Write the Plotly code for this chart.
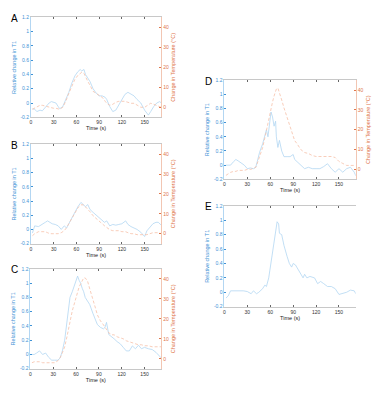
import plotly.graph_objects as go

# ---------------- data ----------------
tA = [2, 5, 8, 12, 15, 20, 24, 27, 30, 33, 36, 38, 42, 46, 50, 54, 58, 62, 65, 67, 70, 72, 75, 78, 82, 86, 90, 94, 98, 100, 104, 108, 112, 116, 120, 124, 128, 132, 136, 140, 145, 150, 155, 158, 162, 166, 170, 172]
t1A = [-0.08, -0.09, -0.12, -0.1, -0.11, -0.05, 0.0, 0.02, 0.01, 0.0, -0.05, -0.08, -0.05, 0.05, 0.15, 0.28, 0.38, 0.44, 0.47, 0.45, 0.47, 0.4, 0.35, 0.3, 0.2, 0.14, 0.1, 0.1, 0.08, 0.05, -0.05, -0.12, -0.1, -0.03, 0.05, 0.12, 0.15, 0.13, 0.1, 0.05, 0.0, -0.1, -0.17, -0.12, -0.05, 0.0, 0.02, 0.0]
tempA = [-1, -0.5, 0, 1, 1, 0.5, 0, 0, -0.5, -0.5, -1, -1, 0, 3, 7, 11, 14, 16, 17, 17.5, 17, 15, 13, 11, 8, 7, 6, 5, 3, 2, 1, 1.5, 2.5, 3, 3, 3, 2.5, 2, 2, 1, 0, 0, 1.5, 2, 1.5, 1, 0.5, 0]

tB = [2, 5, 10, 15, 19, 22, 25, 28, 32, 36, 40, 44, 47, 50, 54, 58, 62, 66, 69, 72, 75, 78, 82, 86, 90, 94, 97, 100, 104, 108, 112, 116, 120, 125, 128, 132, 136, 140, 145, 150, 153, 157, 161, 165, 168, 172]
t1B = [-0.05, 0.05, 0.04, 0.08, 0.1, 0.12, 0.1, 0.08, 0.07, 0.05, 0.0, 0.05, 0.02, 0.08, 0.18, 0.26, 0.32, 0.38, 0.35, 0.32, 0.35, 0.28, 0.24, 0.2, 0.17, 0.12, 0.1, 0.12, 0.05, 0.07, 0.06, 0.07, 0.08, 0.12, 0.07, 0.04, 0.02, 0.0, -0.04, -0.1, -0.02, 0.03, 0.08, 0.1, 0.1, 0.06]
tempB = [-1, 0, 1, 1, 1, 0.5, 0, 0, 0, 0, 0.5, 1.5, 3, 5, 8, 11, 13, 14.5, 14.5, 13.5, 12.5, 11, 9, 7.5, 6, 5, 4, 3, 2, 1.5, 1.5, 1.5, 1, 1, 0.5, 0, 0, -0.5, -0.5, -0.5, -0.5, 0, 0.5, 0.5, 0.5, 0]

tC = [2, 5, 8, 12, 16, 20, 24, 28, 32, 36, 39, 42, 45, 48, 50, 52, 55, 58, 60, 62, 64, 66, 68, 70, 72, 75, 78, 82, 85, 88, 92, 96, 98, 100, 103, 107, 110, 114, 118, 122, 126, 130, 134, 138, 142, 146, 150, 155, 160, 165, 170, 172]
t1C = [0.0, 0.0, 0.02, 0.05, 0.0, 0.02, -0.04, -0.08, -0.08, -0.08, -0.05, 0.05, 0.2, 0.45, 0.6, 0.8, 0.88, 0.98, 1.05, 1.1, 1.04, 1.0, 0.93, 0.88, 0.8, 0.75, 0.7, 0.58, 0.5, 0.42, 0.38, 0.36, 0.38, 0.45, 0.28, 0.25, 0.22, 0.18, 0.15, 0.1, 0.05, 0.05, 0.12, 0.08, 0.13, 0.08, 0.1, 0.08, 0.07, 0.03, -0.02, -0.05]
tempC = [-2, -1.5, -1.5, -1.5, -2, -2, -2, -2, -2, -1, 0.5, 3, 6, 11, 15, 19, 24, 28, 31, 34, 36, 37.5, 39, 40.5, 40.5, 39, 35, 29, 26, 22, 19, 17, 16, 15, 13, 12, 12, 11, 10.5, 10, 9, 8.5, 8, 7.5, 7, 7, 6.5, 6.5, 6, 6, 6, 6]

tD = [2, 5, 8, 12, 15, 18, 22, 26, 30, 34, 38, 41, 43, 46, 50, 53, 55, 57, 59, 61, 63, 65, 67, 68, 70, 72, 75, 78, 82, 86, 90, 92, 95, 100, 105, 110, 115, 120, 125, 130, 135, 140, 145, 150, 155, 160, 165, 170, 172]
t1D = [0.0, 0.0, 0.0, 0.05, 0.08, 0.06, 0.03, 0.0, -0.05, -0.04, -0.05, -0.03, 0.05, 0.18, 0.3, 0.45, 0.5, 0.4, 0.62, 0.75, 0.68, 0.55, 0.62, 0.4, 0.25, 0.35, 0.2, 0.12, 0.12, 0.12, 0.15, 0.08, 0.05, 0.0, -0.05, -0.03, -0.05, -0.05, -0.05, -0.02, 0.02, -0.05, -0.1, -0.05, -0.1, -0.05, -0.03, -0.1, -0.15]
tempD = [-3, -2, -1.5, -1, -1, -0.5, -0.5, -0.5, 0, 0, 0.5, 1, 3, 6, 11, 16, 20, 24, 28, 31, 34, 37, 39, 40.5, 41, 39, 35, 31, 26, 21, 16, 14.5, 13, 10, 8.5, 8, 7, 6.5, 6.5, 6.5, 6.5, 6.5, 6, 4, 3, 2, 2, 2, 2]

tE = [2, 5, 8, 12, 15, 20, 25, 30, 35, 38, 42, 45, 50, 53, 55, 58, 60, 62, 65, 67, 69, 71, 72, 75, 78, 82, 85, 88, 90, 93, 97, 100, 103, 105, 108, 112, 118, 122, 126, 130, 135, 140, 145, 150, 155, 160, 165, 170, 172]
t1E = [-0.08, -0.05, 0.02, 0.02, 0.03, 0.02, 0.02, 0.01, -0.02, 0.02, -0.02, 0.0, 0.05, 0.1, 0.08, 0.2, 0.35, 0.5, 0.75, 0.9, 0.98, 0.95, 0.82, 0.8, 0.65, 0.5, 0.4, 0.35, 0.4, 0.38, 0.3, 0.25, 0.2, 0.25, 0.2, 0.22, 0.2, 0.12, 0.15, 0.12, 0.08, 0.08, 0.05, -0.03, -0.02, 0.0, 0.03, 0.02, -0.02]

panels = ["A", "B", "C", "D", "E"]
times = [tA, tB, tC, tD, tE]
t1_series = [t1A, t1B, t1C, t1D, t1E]
temp_series = [tempA, tempB, tempC, tempD, None]

x_ticks = [0, 30, 60, 90, 120, 150]
y1_ticks = [-0.2, 0, 0.2, 0.4, 0.6, 0.8, 1, 1.2]
y1_ticktext = ["-0.2", "0", "0.2", "0.4", "0.6", "0.8", "1", "1.2"]
y2_ticks = [0, 10, 20, 30, 40]

# ---------------- layout geometry (pixels) ----------------
W, H = 389, 400
boxes = {  # x0, x1, ytop, ybottom in px
    "A": (30, 160.7, 14.7, 116),
    "B": (30, 160.7, 143.3, 244.3),
    "C": (29.5, 160.7, 270, 371.3),
    "D": (224, 355.7, 78.3, 179),
    "E": (224, 355.7, 206, 308.3),
}

BLUE_TXT = "#3f93d6"
ORANGE_TXT = "#e0764a"
BLUE_LINE = "#b3d7f3"
ORANGE_LINE = "#f6c0a8"
FONT = "Liberation Sans, Arial, sans-serif"

fig = go.Figure()
layout = dict(
    width=W, height=H, margin=dict(l=0, r=0, t=0, b=0),
    paper_bgcolor="white", plot_bgcolor="white", showlegend=False,
    font=dict(family=FONT, size=5),
)
annotations = []

for i, p in enumerate(panels):
    n = i + 1
    xs = "" if n == 1 else str(n)
    yl = 2 * i + 1
    yr = 2 * i + 2
    yls = "" if yl == 1 else str(yl)
    x0, x1, yt, yb = boxes[p]
    xd = [x0 / W, x1 / W]
    yd = [1 - yb / H, 1 - yt / H]

    fig.add_trace(go.Scatter(x=times[i], y=t1_series[i], mode="lines",
                             line=dict(color=BLUE_LINE, width=0.8),
                             xaxis="x" + xs, yaxis="y" + yls, hoverinfo="skip"))
    if temp_series[i] is not None:
        fig.add_trace(go.Scatter(x=times[i], y=temp_series[i], mode="lines",
                                 line=dict(color=ORANGE_LINE, width=0.8, dash="3px,2px"),
                                 xaxis="x" + xs, yaxis="y" + str(yr), hoverinfo="skip"))

    layout["xaxis" + xs] = dict(
        domain=xd, anchor="y" + yls, range=[0, 172],
        tickvals=x_ticks, ticks="inside", ticklen=2, tickcolor="#666666",
        showline=True, linecolor="#c8c8c8", linewidth=0.8, mirror="ticks",
        showgrid=False, zeroline=False,
        tickfont=dict(size=5, color="#333333"),
        title=dict(text="Time (s)", font=dict(size=5.5, color="#222222"), standoff=1),
    )
    layout["yaxis" + yls] = dict(
        domain=yd, anchor="x" + xs, range=[-0.2, 1.2],
        tickvals=y1_ticks, ticktext=y1_ticktext, ticks="inside", ticklen=2,
        tickcolor=BLUE_TXT, showline=True, linecolor="#b3d6f2", linewidth=0.8,
        showgrid=False, zeroline=False,
        tickfont=dict(size=5, color=BLUE_TXT),
        title=dict(text="Relative change in T1", font=dict(size=5.5, color=BLUE_TXT), standoff=3),
    )
    layout["yaxis" + str(yr)] = dict(
        domain=yd, anchor="x" + xs, overlaying="y" + yls, side="right",
        range=[-5, 45], tickvals=y2_ticks, ticks="inside", ticklen=2,
        tickcolor=ORANGE_TXT, showline=True, linecolor="#f2c6b3", linewidth=0.8,
        showgrid=False, zeroline=False,
        tickfont=dict(size=5, color=ORANGE_TXT),
        title=dict(text="Change in Temperature (°C)", font=dict(size=5.5, color=ORANGE_TXT), standoff=3),
    )
    annotations.append(dict(
        text=p, x=(x0 - 16) / W, y=1 - (yt + 1) / H, xref="paper", yref="paper",
        xanchor="center", yanchor="middle", showarrow=False,
        font=dict(size=10, color="black", family=FONT),
    ))

layout["annotations"] = annotations
fig.update_layout(**layout)
fig.write_html("out.html", config={"displayModeBar": False},
               post_script="document.body.style.margin='0';")
